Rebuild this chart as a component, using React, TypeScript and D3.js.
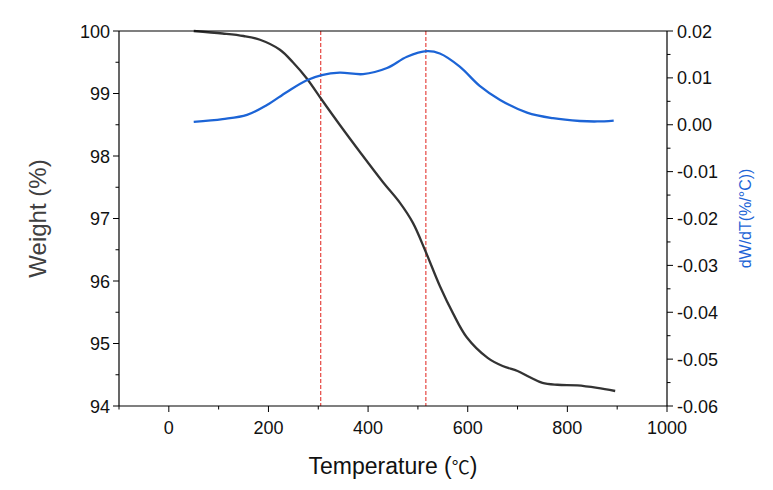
import React from "react";
import * as d3 from "d3";

const tgaTemp = [50, 108, 150, 183, 223, 249, 277, 307, 343, 384, 430, 464, 490, 514, 544, 570, 598, 640, 670, 700, 725, 750, 780, 820, 860, 896];
const tgaWeight = [100.0, 99.96, 99.92, 99.86, 99.7, 99.5, 99.24, 98.9, 98.5, 98.06, 97.58, 97.25, 96.93, 96.5, 95.92, 95.49, 95.1, 94.77, 94.64, 94.56, 94.46, 94.37, 94.34, 94.33, 94.29, 94.24];

const dtgTemp = [50, 108, 157, 197, 237, 277, 307, 343, 390, 438, 478, 518, 544, 584, 624, 665, 719, 771, 825, 860, 893];
const dtgValue = [0.0006, 0.0012, 0.0021, 0.0042, 0.007, 0.0095, 0.0106, 0.0111, 0.0108, 0.0121, 0.0145, 0.0157, 0.0152, 0.0124, 0.0083, 0.0053, 0.0026, 0.0014, 0.0008, 0.0007, 0.0009];

const peakTemps = [305, 516];

const xMajor = [0, 200, 400, 600, 800, 1000];
const xMinor = [-100, 100, 300, 500, 700, 900];
const yLeftMajor = [94, 95, 96, 97, 98, 99, 100];
const yRightMajor = [-0.06, -0.05, -0.04, -0.03, -0.02, -0.01, 0.0, 0.01, 0.02];

export default function App() {
  const W = 773, H = 490;
  const L = 119, R = 667, T = 31, B = 406;
  const x = d3.scaleLinear().domain([-100, 1000]).range([L, R]);
  const yl = d3.scaleLinear().domain([94, 100]).range([B, T]);
  const yr = d3.scaleLinear().domain([-0.06, 0.02]).range([B, T]);

  const tgaLine = d3.line<number>().x((_, i) => x(tgaTemp[i])).y((d) => yl(d)).curve(d3.curveCatmullRom.alpha(0.5))(tgaWeight) || "";
  const dtgLine = d3.line<number>().x((_, i) => x(dtgTemp[i])).y((d) => yr(d)).curve(d3.curveCatmullRom.alpha(0.5))(dtgValue) || "";

  const yLeftMinor = d3.range(94.5, 100, 1);
  const yRightMinor = d3.range(-0.055, 0.02, 0.01);
  const font = "Liberation Sans, Arial, sans-serif";
  const fmt = (v: number) => (Math.abs(v) < 1e-9 ? "0.00" : v.toFixed(2));

  return (
    <svg width={W} height={H} style={{ position: "absolute", left: 0, top: 0 }} fontFamily={font}>
      <rect width={W} height={H} fill="#fff" />
      {peakTemps.map((t) => (
        <line key={t} x1={x(t)} x2={x(t)} y1={T} y2={B} stroke="#e0201b" strokeWidth={1} strokeDasharray="4,2" />
      ))}
      <path d={tgaLine} fill="none" stroke="#333333" strokeWidth={2.3} />
      <path d={dtgLine} fill="none" stroke="#1c64d6" strokeWidth={2.3} />
      <line x1={L} x2={R} y1={T} y2={T} stroke="#000" strokeWidth={1.2} />
      <line x1={L} x2={R} y1={B} y2={B} stroke="#000" strokeWidth={1.2} />
      <line x1={L} x2={L} y1={T} y2={B} stroke="#000" strokeWidth={1.2} />
      <line x1={R} x2={R} y1={T} y2={B} stroke="#000" strokeWidth={1.2} />
      {xMajor.map((v) => (
        <g key={"xm" + v}>
          <line x1={x(v)} x2={x(v)} y1={B} y2={B + 6} stroke="#000" />
          <text x={x(v)} y={B + 28} fontSize={18} textAnchor="middle" fill="#111">{v}</text>
        </g>
      ))}
      {xMinor.map((v) => (
        <line key={"xn" + v} x1={x(v)} x2={x(v)} y1={B} y2={B + 3.5} stroke="#000" />
      ))}
      {yLeftMajor.map((v) => (
        <g key={"yl" + v}>
          <line x1={L - 6} x2={L} y1={yl(v)} y2={yl(v)} stroke="#000" />
          <text x={L - 9} y={yl(v) + 6.5} fontSize={18} textAnchor="end" fill="#111">{v}</text>
        </g>
      ))}
      {yLeftMinor.map((v) => (
        <line key={"yln" + v} x1={L - 3.5} x2={L} y1={yl(v)} y2={yl(v)} stroke="#000" />
      ))}
      {yRightMajor.map((v) => (
        <g key={"yr" + v}>
          <line x1={R} x2={R + 6} y1={yr(v)} y2={yr(v)} stroke="#000" />
          <text x={R + 10} y={yr(v) + 6.5} fontSize={18} textAnchor="start" fill="#111">{fmt(v)}</text>
        </g>
      ))}
      {yRightMinor.map((v) => (
        <line key={"yrn" + v} x1={R} x2={R + 3.5} y1={yr(v)} y2={yr(v)} stroke="#000" />
      ))}
      <text x={(L + R) / 2} y={474} fontSize={23} textAnchor="middle" fill="#111">
        Temperature (<tspan fontFamily="Noto Sans CJK SC" fontSize={18}>℃</tspan>)
      </text>
      <text transform={`translate(46,${(T + B) / 2}) rotate(-90)`} fontSize={24} textAnchor="middle" fill="#404040">Weight (%)</text>
      <text transform={`translate(751,${(T + B) / 2}) rotate(-90)`} fontSize={16} textAnchor="middle" fill="#1c64d6">dW/dT(%/°C))</text>
    </svg>
  );
}
